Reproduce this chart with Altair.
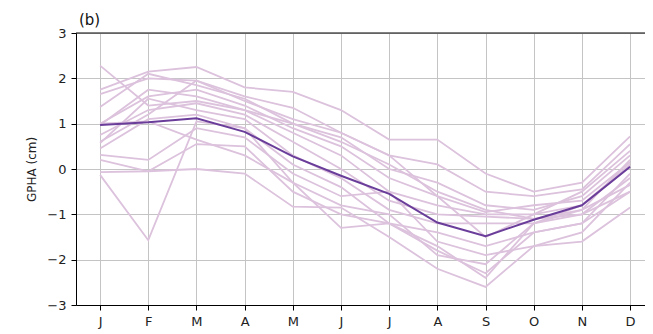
import altair as alt
import pandas as pd

months = ["J", "F", "M", "A", "M", "J", "J", "A", "S", "O", "N", "D"]

mean_line = [0.97, 1.03, 1.12, 0.82, 0.28, -0.15, -0.55, -1.18, -1.48, -1.12, -0.80, 0.05]

members = [
    [2.28, 1.40, 1.50, 1.30, 1.00, 0.60, 0.10, -0.50, -0.90, -1.10, -0.90, 0.20],
    [1.75, 2.15, 2.25, 1.80, 1.70, 1.30, 0.65, 0.65, -0.10, -0.50, -0.30, 0.72],
    [1.65, 2.00, 1.95, 1.60, 1.35, 0.80, 0.30, 0.10, -0.50, -0.60, -0.45, 0.55],
    [1.37, 2.10, 1.85, 1.55, 1.00, 0.70, 0.00, -0.30, -0.80, -0.90, -0.60, 0.30],
    [1.00, 1.60, 1.75, 1.40, 0.90, 0.50, -0.20, -0.60, -0.95, -0.80, -0.70, 0.15],
    [0.97, 1.75, 1.60, 1.30, 0.80, 0.30, -0.50, -0.80, -1.00, -1.00, -0.80, 0.05],
    [0.75, 1.30, 1.45, 1.20, 0.60, 0.00, -0.70, -1.00, -1.05, -1.10, -1.00, -0.20],
    [0.57, 1.55, 1.30, 1.10, 0.30, -0.20, -0.90, -1.20, -1.20, -1.20, -0.90, -0.35],
    [0.45, 1.10, 1.20, 0.90, 0.10, -0.40, -1.20, -1.40, -1.70, -1.40, -1.20, -0.50],
    [0.31, 0.20, 0.90, 0.70, -0.10, -0.60, -0.50, -1.60, -1.90, -1.70, -1.40, -0.30],
    [-0.13, -1.57, 1.05, 0.90, -0.30, -0.80, -1.00, -1.90, -2.10, -1.20, -1.00, -0.50],
    [-0.07, -0.05, 0.00, -0.10, -0.83, -0.85, -1.50, -2.20, -2.60, -1.70, -1.60, -0.85],
    [0.20, -0.05, 0.55, 0.50, -0.50, -1.00, -1.20, -1.80, -2.30, -1.40, -1.20, -0.10],
    [1.00, 1.05, 0.65, 0.30, -0.30, -1.30, -1.20, -1.70, -2.40, -1.20, -0.80, 0.10],
    [0.60, 1.20, 1.95, 1.50, 1.10, 0.80, 0.30, -0.60, -1.50, -1.00, -0.50, 0.40],
]

panel_label = "(b)"

rows = []
for k, series in enumerate(members):
    for i, v in enumerate(series):
        rows.append({"member": k, "idx": i, "value": v})
df_members = pd.DataFrame(rows)
df_mean = pd.DataFrame({"idx": list(range(12)), "value": mean_line})

label_expr = "[" + ",".join(f"'{m}'" for m in months) + "][datum.value]"

x_enc = alt.X(
    "idx:Q",
    scale=alt.Scale(domain=[-0.5, 11.31], nice=False, zero=False),
    axis=alt.Axis(
        values=list(range(12)), labelExpr=label_expr, title=None,
        grid=True, gridColor="#c4c4c4", gridWidth=1,
        domainColor="black", tickColor="black", tickSize=5,
        labelFont="DejaVu Sans", labelFontSize=13, labelColor="#222222",
        labelPadding=5, labelFlush=False,
    ),
)
y_enc = alt.Y(
    "value:Q",
    scale=alt.Scale(domain=[-3, 3], nice=False),
    axis=alt.Axis(
        values=[-3, -2, -1, 0, 1, 2, 3], title="GPHA (cm)",
        grid=True, gridColor="#c4c4c4", gridWidth=1,
        domainColor="black", tickColor="black", tickSize=5,
        labelFont="DejaVu Sans", labelFontSize=13, labelColor="#222222",
        labelPadding=5, titleFont="DejaVu Sans", titleFontSize=12,
        titleFontWeight="normal", titleColor="#222222", titlePadding=8,
    ),
)

light = alt.Chart(df_members).mark_line(color="#dcc2dc", strokeWidth=1.8).encode(
    x=x_enc, y=y_enc, detail="member:N"
)
dark = alt.Chart(df_mean).mark_line(color="#6a3d9a", strokeWidth=2).encode(
    x="idx:Q", y="value:Q"
)
top = alt.Chart(pd.DataFrame({"v": [3]})).mark_rule(color="black", strokeWidth=1).encode(
    y="v:Q"
)
label = alt.Chart(pd.DataFrame({"t": [panel_label]})).mark_text(
    align="left", baseline="bottom", dx=3, dy=-5, fontSize=15,
    font="DejaVu Sans", color="#111111"
).encode(x=alt.datum(-0.5), y=alt.datum(3), text="t:N")

chart = alt.layer(light, dark, top, label).properties(
    width=569, height=272,
    autosize=alt.AutoSizeParams(type="none"),
    padding={"left": 68, "top": 25, "right": 0, "bottom": 29},
).configure_view(stroke=None)

chart.save("out.html", embed_options={"renderer": "svg", "actions": False})
